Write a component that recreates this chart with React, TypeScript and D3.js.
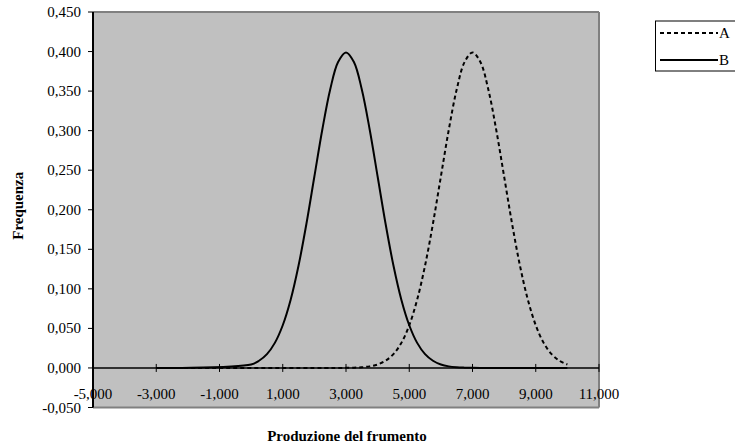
import React from "react";
import * as d3 from "d3";

const xA = [-3, 2.75, 3, 3.25, 3.5, 3.75, 4, 4.25, 4.5, 4.75, 5, 5.25, 5.5, 5.75, 6, 6.25, 6.5, 6.75, 7, 7.25, 7.5, 7.75, 8, 8.25, 8.5, 8.75, 9, 9.25, 9.5, 9.75, 10];
const yA = [0, 0, 0.0001, 0.0004, 0.0009, 0.002, 0.0044, 0.0091, 0.0175, 0.0317, 0.054, 0.0863, 0.1295, 0.1826, 0.242, 0.3011, 0.3521, 0.3867, 0.3989, 0.3867, 0.3521, 0.3011, 0.242, 0.1826, 0.1295, 0.0863, 0.054, 0.0317, 0.0175, 0.0091, 0.0044];
const xB = [-3, -2.25, 0, 0.25, 0.5, 0.75, 1, 1.25, 1.5, 1.75, 2, 2.25, 2.5, 2.75, 3, 3.25, 3.5, 3.75, 4, 4.25, 4.5, 4.75, 5, 5.25, 5.5, 5.75, 6, 6.25, 6.5, 6.75, 7, 7.25, 8, 10];
const yB = [0, 0, 0.0044, 0.0091, 0.0175, 0.0317, 0.054, 0.0863, 0.1295, 0.1826, 0.242, 0.3011, 0.3521, 0.3867, 0.3989, 0.3867, 0.3521, 0.3011, 0.242, 0.1826, 0.1295, 0.0863, 0.054, 0.0317, 0.0175, 0.0091, 0.0044, 0.002, 0.0009, 0.0004, 0.0001, 0, 0, 0];
const xTicks = [-5, -3, -1, 1, 3, 5, 7, 9, 11];
const yTicks = [-0.05, 0, 0.05, 0.1, 0.15, 0.2, 0.25, 0.3, 0.35, 0.4, 0.45];
const seriesNames = ["A", "B"];

const FONT = "'Liberation Serif', 'Times New Roman', serif";

const fmt = (v: number) => d3.format(".3f")(v).replace("−", "-").replace(".", ",");

export default function App() {
  const left = 93, right = 599, top = 12, bottom = 407.5;
  const x = d3.scaleLinear().domain([-5, 11]).range([left, right]);
  const y = d3.scaleLinear().domain([-0.05, 0.45]).range([bottom, top]);
  const line = d3.line<[number, number]>().x(d => x(d[0])).y(d => y(d[1])).curve(d3.curveCatmullRom.alpha(0.5));
  const ptsA = xA.map((v, i) => [v, yA[i]] as [number, number]);
  const ptsB = xB.map((v, i) => [v, yB[i]] as [number, number]);
  const y0 = y(0);
  return (
    <svg width={735} height={448} style={{ position: "absolute", left: 0, top: 0 }} fontFamily={FONT}>
      <rect x={0} y={0} width={735} height={448} fill="#fff" />
      <rect x={left} y={top} width={right - left} height={bottom - top} fill="#c0c0c0" />
      <line x1={left} x2={right} y1={top} y2={top} stroke="#808080" strokeWidth={2} />
      <line x1={right} x2={right} y1={top} y2={bottom} stroke="#808080" strokeWidth={2} />
      <line x1={left} x2={right} y1={bottom} y2={bottom} stroke="#808080" strokeWidth={2} />
      <path d={line(ptsA) || ""} fill="none" stroke="#000" strokeWidth={2} strokeDasharray="4,3" />
      <path d={line(ptsB) || ""} fill="none" stroke="#000" strokeWidth={2} />
      <line x1={left} x2={right} y1={y0} y2={y0} stroke="#000" strokeWidth={1.5} />
      {xTicks.map(t => (
        <g key={"xt" + t}>
          <line x1={x(t)} x2={x(t)} y1={y0 - 4} y2={y0 + 4} stroke="#000" strokeWidth={1} />
          <text x={x(t)} y={y0 + 31} textAnchor="middle" fontSize={15} fill="#000">{fmt(t)}</text>
        </g>
      ))}
      <line x1={left} x2={left} y1={top} y2={bottom} stroke="#000" strokeWidth={2} />
      {yTicks.map(t => (
        <g key={"yt" + t}>
          <line x1={left - 5} x2={left} y1={y(t)} y2={y(t)} stroke="#000" strokeWidth={1} />
          <text x={81} y={y(t) + 5} textAnchor="end" fontSize={15} fill="#000">{fmt(t)}</text>
        </g>
      ))}
      <text transform={`translate(23,${(top + bottom) / 2 - 4}) rotate(-90)`} textAnchor="middle" fontSize={15} fontWeight="bold" fill="#000">Frequenza</text>
      <text x={347} y={441} textAnchor="middle" fontSize={15} fontWeight="bold" fill="#000">Produzione del frumento</text>
      <rect x={655.5} y={21} width={100} height={50} fill="#fff" stroke="#000" strokeWidth={1} />
      {seriesNames.map((n, i) => (
        <g key={n}>
          <line x1={660} x2={718} y1={33 + i * 27} y2={33 + i * 27} stroke="#000" strokeWidth={2} strokeDasharray={i === 0 ? "4,3" : undefined} />
          <text x={719} y={38 + i * 27} fontSize={15} fill="#000">{n}</text>
        </g>
      ))}
    </svg>
  );
}
